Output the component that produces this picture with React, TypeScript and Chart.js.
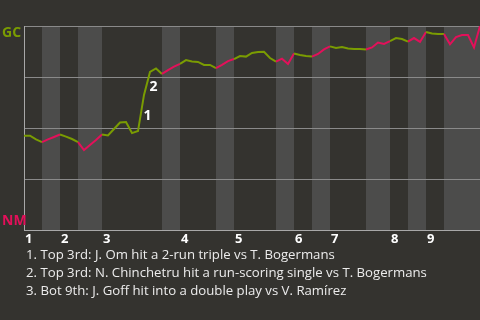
import React, { useEffect, useRef } from "react";
import { Chart, registerables } from "chart.js";

Chart.register(...registerables);

// Win probability for GC (visitor) after each plate appearance, in %
const winProb: number[] = [
  46.2, 46.2, 44.4, 43.1, 44.4, 45.6, 46.8, 45.8, 44.6, 43.1,
  39.2, 41.7, 44.1, 46.8, 46.3, 49.5, 52.7, 52.9, 47.5, 48.5,
  66.2, 77.5, 79.2, 76.5, 78.4, 80.1, 81.4, 83.3, 82.6, 82.4,
  80.9, 80.9, 79.4, 80.9, 82.8, 83.8, 85.3, 85.0, 86.8, 87.3,
  87.4, 84.3, 82.5, 84.0, 81.4, 86.5, 85.8, 85.3, 85.0, 86.3,
  88.5, 90.0, 89.2, 89.7, 89.0, 88.7, 88.7, 88.5, 89.5, 91.9,
  91.2, 92.6, 94.1, 93.6, 92.3, 94.1, 92.2, 97.1, 96.3, 96.1,
  96.1, 91.0, 94.6, 95.6, 95.6, 89.5, 100,
];

// PA index where each half-inning starts (top 1, bot 1, top 2, ...), plus final end
const halfInningStarts: number[] = [0, 3, 6, 9, 13, 23, 26, 32, 35, 42, 45, 48, 51, 57, 61, 64, 67, 70, 76];
const inningLabels: string[] = ["1", "2", "3", "4", "5", "6", "7", "8", "9"];

// Key events: index of PA that ended the event segment
const eventIndex: number[] = [20, 21, 76];
const eventLabels: string[] = ["1", "2", "3"];
const eventNotes: string[] = [
  "1. Top 3rd: J. Om hit a 2-run triple vs T. Bogermans",
  "2. Top 3rd: N. Chinchetru hit a run-scoring single vs T. Bogermans",
  "3. Bot 9th: J. Goff hit into a double play vs V. Ramírez",
];

const teamTop = "GC";
const teamBottom = "NM";

const BG = "#34332f";
const BAND = "#4c4c4b";
const GRID = "#8a8a8a";
const GREEN = "#7a9c02";
const RED = "#e3105a";
const FONT = "'Open Sans', 'Noto Sans', sans-serif";

function halfIndexOf(k: number): number {
  for (let i = 0; i < halfInningStarts.length - 1; i++) {
    if (k >= halfInningStarts[i] && k < halfInningStarts[i + 1]) return i;
  }
  return halfInningStarts.length - 2;
}

const backgroundPlugin = {
  id: "wpBackground",
  beforeDatasetsDraw(chart: any) {
    const { ctx, chartArea, scales } = chart;
    const xs = scales.x;
    const ys = scales.y;
    ctx.save();
    ctx.fillStyle = BAND;
    for (let i = 1; i < halfInningStarts.length - 1; i += 2) {
      const x0 = xs.getPixelForValue(halfInningStarts[i]);
      const x1 = xs.getPixelForValue(halfInningStarts[i + 1]);
      ctx.fillRect(x0, chartArea.top, x1 - x0, chartArea.bottom - chartArea.top);
    }
    ctx.strokeStyle = GRID;
    ctx.lineWidth = 1;
    [100, 75, 50, 25].forEach((v) => {
      const y = Math.round(ys.getPixelForValue(v)) + 0.5;
      ctx.beginPath();
      ctx.moveTo(chartArea.left, y);
      ctx.lineTo(chartArea.right, y);
      ctx.stroke();
    });
    ctx.strokeStyle = "#a8a8a8";
    const yb = Math.round(ys.getPixelForValue(0)) + 0.5;
    ctx.beginPath();
    ctx.moveTo(chartArea.left, yb);
    ctx.lineTo(chartArea.right, yb);
    ctx.stroke();
    const xl = Math.round(chartArea.left) + 0.5;
    ctx.beginPath();
    ctx.moveTo(xl, chartArea.top);
    ctx.lineTo(xl, chartArea.bottom);
    ctx.stroke();
    ctx.restore();
  },
  afterDraw(chart: any) {
    const { ctx, chartArea, scales } = chart;
    const xs = scales.x;
    const ys = scales.y;
    ctx.save();
    // team labels
    ctx.font = `bold 14px ${FONT}`;
    ctx.textAlign = "left";
    ctx.textBaseline = "middle";
    ctx.fillStyle = GREEN;
    ctx.fillText(teamTop, 2, chartArea.top + 7);
    ctx.fillStyle = RED;
    ctx.fillText(teamBottom, 2, chartArea.bottom - 9);
    // inning labels
    ctx.fillStyle = "#ffffff";
    ctx.font = `bold 13px ${FONT}`;
    inningLabels.forEach((lab, i) => {
      const x = xs.getPixelForValue(halfInningStarts[i * 2]);
      ctx.fillText(lab, x + 1, chartArea.bottom + 9);
    });
    // event labels
    ctx.font = `bold 14px ${FONT}`;
    ctx.textAlign = "center";
    eventIndex.forEach((k, i) => {
      const x0 = xs.getPixelForValue(k - 1);
      const x1 = xs.getPixelForValue(k);
      const y0 = ys.getPixelForValue(winProb[k - 1]);
      const y1 = ys.getPixelForValue(winProb[k]);
      ctx.fillText(eventLabels[i], (x0 + x1) / 2 + 6.5, (y0 + y1) / 2 + 3.5);
    });
    ctx.restore();
  },
};

export default function App() {
  const canvasRef = useRef<HTMLCanvasElement | null>(null);

  useEffect(() => {
    document.body.style.margin = "0";
    document.body.style.background = BG;
    const canvas = canvasRef.current;
    if (!canvas) return;
    const chart = new Chart(canvas, {
      type: "line",
      data: {
        datasets: [
          {
            data: winProb.map((v, i) => ({ x: i, y: v })),
            borderWidth: 2,
            pointRadius: 0,
            tension: 0,
            borderColor: GREEN,
            segment: {
              borderColor: (ctx: any) => (halfIndexOf(ctx.p0DataIndex) % 2 === 0 ? GREEN : RED),
            },
          },
        ],
      },
      options: {
        animation: false,
        responsive: false,
        maintainAspectRatio: false,
        layout: { padding: { left: 24, top: 26, right: 0, bottom: 90 } },
        plugins: { legend: { display: false }, tooltip: { enabled: false } },
        scales: {
          x: { type: "linear", min: 0, max: halfInningStarts[halfInningStarts.length - 1], display: false },
          y: { min: 0, max: 100, display: false },
        },
      },
      plugins: [backgroundPlugin],
    });
    return () => chart.destroy();
  }, []);

  return (
    <div style={{ position: "relative", width: 480, height: 320, background: BG, overflow: "hidden" }}>
      <canvas ref={canvasRef} width={480} height={320} style={{ display: "block" }} />
      <div
        style={{
          position: "absolute",
          left: 26,
          top: 245,
          color: "#ececec",
          fontFamily: FONT,
          fontSize: 13.2,
          lineHeight: "18px",
          whiteSpace: "nowrap",
        }}
      >
        {eventNotes.map((n, i) => (
          <div key={i}>{n}</div>
        ))}
      </div>
    </div>
  );
}
